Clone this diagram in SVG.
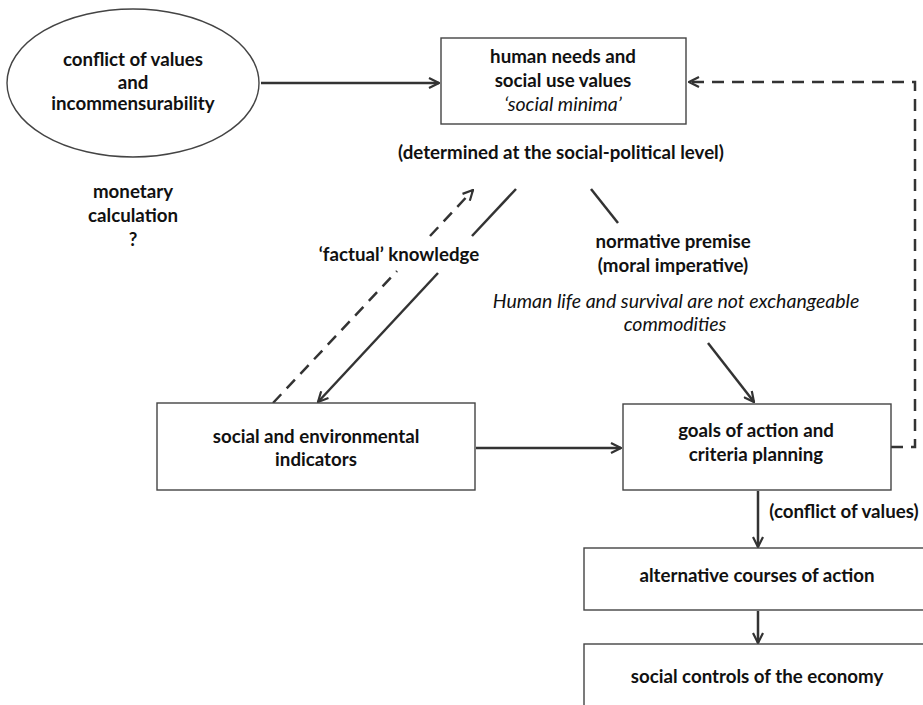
<svg xmlns="http://www.w3.org/2000/svg" width="923" height="705" viewBox="0 0 923 705">
<defs>
<style>
.b{font-family:Lato,"Open Sans","DejaVu Sans",sans-serif;font-weight:bold;font-size:18.7px;fill:#111;text-anchor:middle}
.i{font-family:Lato,"Open Sans","DejaVu Sans",sans-serif;font-style:italic;font-size:19.5px;fill:#111;text-anchor:middle}
.box{fill:#fff;stroke:#444;stroke-width:1.4}
.ln{fill:none;stroke:#333;stroke-width:2.5}
.ds{fill:none;stroke:#333;stroke-width:2.5;stroke-dasharray:12 8}
</style>
<marker id="ah" viewBox="0 0 12 12" refX="11" refY="6" markerWidth="12" markerHeight="12" markerUnits="userSpaceOnUse" orient="auto">
<path d="M1,1 L11,6 L1,11" fill="none" stroke="#333" stroke-width="2.2"/>
</marker>
</defs>
<rect width="923" height="705" fill="#fff"/>
<g id="connectors">
<line class="ln" x1="261" y1="83" x2="439" y2="83" marker-end="url(#ah)"/>
<polyline class="ds" points="891,447 915,447 915,82 689,82" marker-end="url(#ah)"/>
<line class="ln" x1="516" y1="189" x2="472" y2="236"/>
<line class="ln" x1="438" y1="273" x2="318" y2="402" marker-end="url(#ah)"/>
<line class="ds" x1="273" y1="403" x2="397" y2="271"/>
<line class="ds" x1="430" y1="236" x2="473" y2="190" marker-end="url(#ah)"/>
<line class="ln" x1="591" y1="189" x2="618" y2="223"/>
<line class="ln" x1="708" y1="343" x2="754" y2="402" marker-end="url(#ah)"/>
<line class="ln" x1="476" y1="448" x2="621" y2="448" marker-end="url(#ah)"/>
<line class="ln" x1="758" y1="491" x2="758" y2="547" marker-end="url(#ah)"/>
<line class="ln" x1="758" y1="611" x2="758" y2="643" marker-end="url(#ah)"/>
</g>
<g id="conflict">
<ellipse class="box" cx="133" cy="83" rx="126" ry="74"/>
<text class="b" x="133" y="66">conflict of values</text>
<text class="b" x="133" y="89">and</text>
<text class="b" x="133" y="110">incommensurability</text>
</g>
<g id="needs">
<rect class="box" x="441" y="38" width="245" height="86"/>
<text class="b" x="563" y="63">human needs and</text>
<text class="b" x="563" y="87">social use values</text>
<text class="i" x="563" y="111">‘social minima’</text>
</g>
<g id="labels">
<text class="b" x="561" y="159">(determined at the social-political level)</text>
<text class="b" x="133" y="198">monetary</text>
<text class="b" x="133" y="222">calculation</text>
<text class="b" x="133" y="246">?</text>
<text class="b" x="399" y="261">‘factual’ knowledge</text>
<text class="b" x="673" y="248">normative premise</text>
<text class="b" x="673" y="272">(moral imperative)</text>
<text class="i" x="676" y="308">Human life and survival are not exchangeable</text>
<text class="i" x="675" y="331">commodities</text>
<text class="b" x="844" y="518">(conflict of values)</text>
</g>
<g id="indicators">
<rect class="box" x="157" y="403" width="318" height="87"/>
<text class="b" x="316" y="443">social and environmental</text>
<text class="b" x="316" y="466">indicators</text>
</g>
<g id="goals">
<rect class="box" x="623" y="404" width="268" height="86"/>
<text class="b" x="756" y="437">goals of action and</text>
<text class="b" x="756" y="461">criteria planning</text>
</g>
<g id="alternatives">
<rect class="box" x="584" y="548" width="350" height="62"/>
<text class="b" x="757" y="582">alternative courses of action</text>
</g>
<g id="controls">
<rect class="box" x="584" y="644" width="350" height="80"/>
<text class="b" x="757" y="683">social controls of the economy</text>
</g>
</svg>
